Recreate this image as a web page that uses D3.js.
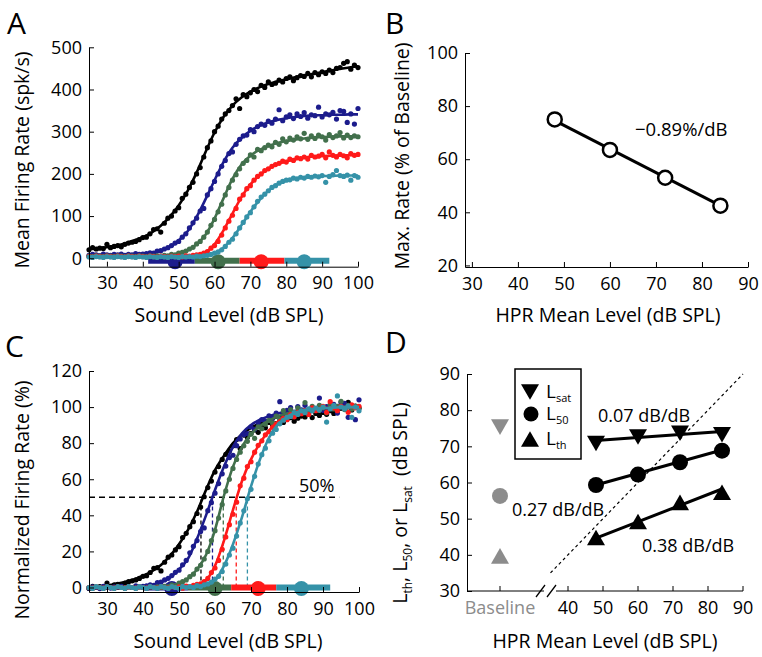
<!DOCTYPE html>
<html>
<head>
<meta charset="utf-8">
<script src="https://cdn.jsdelivr.net/npm/d3@7/dist/d3.min.js"></script>
<style>
  body { margin: 0; background: #fff; }
  svg { display: block; }
</style>
</head>
<body>
<svg id="fig" width="762" height="657"></svg>
<script>
// ---- Veriler ----
// test edilen ses seviyeleri (dB SPL), 1 dB adim
const levels = [25,26,27,28,29,30,31,32,33,34,35,36,37,38,39,40,41,42,43,44,45,46,47,48,49,50,
  51,52,53,54,55,56,57,58,59,60,61,62,63,64,65,66,67,68,69,70,71,72,73,74,75,76,77,78,79,80,
  81,82,83,84,85,86,87,88,89,90,91,92,93,94,95,96,97,98,99,100];
// fit egrilerinin okundugu seviyeler
const fitLevels = [25,27.5,30,32.5,35,37.5,40,42.5,45,47.5,50,52.5,55,57.5,60,62.5,65,67.5,70,
  72.5,75,77.5,80,82.5,85,87.5,90,92.5,95,97.5,100];

const seriesNames = ['Baseline', 'HPR 48', 'HPR 60', 'HPR 72', 'HPR 84'];
const seriesColors = ['#000000', '#1c1c8c', '#42704c', '#ff1a1a', '#3592a8'];

// Panel A: ortalama atim hizi (spk/s)
const blackDotsA = [20,25,22,24,23,33,25,28,30,27,33,36,38,40,44,49,50,58,68,70,62,83,95,100,112,120,142,152,168,180,
  200,215,240,262,278,300,313,330,342,350,362,378,355,388,383,392,400,395,410,405,418,412,415,422,418,426,430,421,428,433,
  431,438,430,440,435,442,438,446,440,450,452,462,466,448,458,452];
const blueDotsA = [7,9,8,6,10,8,7,9,8,10,7,9,8,11,9,10,11,13,12,17,18,22,25,30,36,40,50,58,72,84,
  95,112,118,150,165,182,200,218,232,248,252,270,282,290,292,305,300,312,318,315,325,320,330,352,326,335,340,331,342,336,
  345,332,340,338,358,335,342,340,346,330,350,348,322,342,318,355];
const greenDotsA = [5,4,6,5,4,6,5,4,6,5,4,6,5,4,6,5,4,6,5,6,5,7,6,9,8,12,14,17,22,26,
  34,40,50,62,78,92,110,128,150,168,185,198,212,225,232,245,240,258,255,262,268,264,275,270,283,276,285,280,288,283,
  296,282,290,284,292,288,280,293,286,290,298,285,292,286,290,288];
const redDotsA = [4,3,5,4,3,5,4,3,5,4,3,5,4,3,5,4,3,5,4,3,5,4,3,5,4,5,3,6,5,7,
  8,9,12,16,24,30,40,55,72,88,102,118,140,150,165,172,185,194,200,208,212,218,222,225,230,228,235,232,238,236,
  240,235,244,240,242,246,238,252,244,240,246,243,238,248,244,246];
const tealDotsA = [3,2,4,3,2,4,3,2,4,3,2,4,3,2,4,3,2,4,3,2,4,3,2,4,3,2,4,3,4,3,
  5,4,6,7,9,12,15,20,28,38,45,58,72,85,98,108,122,135,145,152,160,168,172,178,182,185,186,190,188,192,
  190,194,192,195,193,196,180,194,198,208,196,194,197,185,196,192];

const blackFitA = [22,24,26,30,35,42,50,61,77,98,125,160,203,252,298,335,362,381,395,405,413,419,424,429,433,437,441,445,449,452,455];
const blueFitA = [8,8,8,8,8,8.5,9.5,12,18,27,42,64,98,140,185,228,262,285,302,314,322,328,332,335,337,339,339,340,340,341,341];
const greenFitA = [5,5,5,5,5,5,5,5,6,7,11,19,33,56,94,142,188,222,243,257,266,273,278,281,284,286,287,288,289,289,289];
const redFitA = [4,4,4,4,4,4,4,4,4,4,4,5,8,14,33,66,106,145,175,196,212,223,230,235,239,241,242,243,244,244,245];
const tealFitA = [3,3,3,3,3,3,3,3,3,3,3,3,4,6,11,25,48,78,110,138,160,175,184,189,192,194,195,195,196,196,196];

// HPR dagilim cubuklari (dB SPL)
const hprStartA = [41.5, 54.5, 67, 79.5];
const hprEndA = [54.5, 67, 79.5, 92];
const hprMeanA = [49, 61, 73, 85];
const hprStartC = [40, 52.5, 64.5, 77];
const hprEndC = [52.5, 64.5, 77, 92];
const hprMeanC = [48, 60, 72, 84];

// Panel C: normalize atim hizi (%)
const blackDotsC = [-0.5,0.7,0,0.5,0.2,2.5,0.7,1.4,1.8,1.2,2.5,3.2,3.7,4.2,5,6.2,6.5,8.3,10.6,11,
  9.2,14,16.8,18,20.8,22.6,27.7,30,33.7,36.5,41,44.6,50.3,55.4,59,64,67,71,73.8,75.7,
  78.5,82,77,84.5,83.3,85.4,87.3,86,89.6,88.5,91.5,90,90.8,92.4,91.5,93.3,94.2,92.2,93.8,95,
  94.5,96,94.2,96.5,95.4,97,96,98,96.5,99,99.4,101.7,102.6,98.4,100.6,99.3];
const blueDotsC = [-0.3,0.3,0,-0.6,0.6,0,-0.3,0.3,0,0.6,-0.3,0.3,0,0.9,0.3,0.6,0.9,1.5,1.2,2.7,
  3,4.2,5.1,6.6,8.4,9.6,12.6,15,19.2,22.8,26,31,33,42.6,47,52.3,57.6,63,67.3,72,
  73.3,78.6,82.3,84.7,85.3,89,87.7,91.3,93,92.2,95.2,93.7,96.7,103,95.5,98.2,99.7,97,100.3,98.5,
  101,97.3,99.7,99,105,98.2,100.3,99.7,101.5,96.7,102.6,102,94.3,100.3,93,104];
const greenDotsC = [0,-0.4,0.4,0,-0.4,0.4,0,-0.4,0.4,0,-0.4,0.4,0,-0.4,0.4,0,-0.4,0.4,0,0.4,
  0,0.7,0.4,1.4,1,2.5,3.2,4.2,6,7.4,10.2,12.3,15.8,20,26,31.5,38.5,46,53.5,60,
  66,71,75,78.5,81,85,82.7,89,88,90.5,92.6,91.2,95,93.3,98,95.4,98.6,96.8,99.6,97.9,
  102.5,97.5,100.4,98.2,101,99.6,96.8,101.4,99,100.4,103.2,98.6,101,98.9,100.4,99.6];
const redDotsC = [0,-0.4,0.4,0,-0.4,0.4,0,-0.4,0.4,0,-0.4,0.4,0,-0.4,0.4,0,-0.4,0.4,0,-0.4,
  0.4,0,-0.4,0.4,0,0.4,-0.4,0.8,0.4,1.2,1.7,2,3.3,5,8.3,10.8,15,21.2,28,34.8,
  40.6,47.3,56.4,60.6,67,69.7,75,78.8,81.3,84.6,86.3,88.8,90.5,91.7,93.8,93,95.9,94.6,97.1,96.3,
  98,95.9,99.6,98,98.8,100.4,97.1,103,99.6,98,100.4,99.2,97.1,101.2,99.6,100.4];
const tealDotsC = [0,-0.5,0.5,0,-0.5,0.5,0,-0.5,0.5,0,-0.5,0.5,0,-0.5,0.5,0,-0.5,0.5,0,-0.5,
  0.5,0,-0.5,0.5,0,-0.5,0.5,0,0.5,0,1,0.5,1.5,2,3,4.7,6.2,8.8,13,18,
  21.8,28.5,35.8,42.5,49.2,54.4,61.6,68.4,73.6,77.2,81.3,85.5,87.6,90.7,92.7,94.3,94.8,96.9,95.9,97.9,
  96.9,99,97.9,99.5,98.4,100,91.7,99,101,106.2,100,99,100.5,94.3,100,97.9];

const blackFitC = [0,0.5,1,2,3,4.5,6.5,9,12.5,17.5,24,32,42,54,65,73,80,85,88.5,91,93,94.5,95.5,96.5,97,97.5,98,98.5,99,99.5,100];
const blueFitC = [0,0,0,0,0,0.2,0.5,1,3,5.5,10,16,27,40,54,67,78,85.5,90,93,95,96.5,97.5,98,98.5,99,99,99.5,99.5,100,100];
const greenFitC = [0,0,0,0,0,0,0,0,0.5,1,2,5,10,18,32,51,67,78,85,89.5,92.5,95,96.5,97.5,98.5,99,99.5,99.5,100,100,100];
const redFitC = [0,0,0,0,0,0,0,0,0,0,0,0.5,1.5,4,12,26,43,59,71,80,87,92,95,97,98.5,99,99.5,99.5,100,100,100];
const tealFitC = [0,0,0,0,0,0,0,0,0,0,0,0,0.5,1.5,4,12,24,39,56,71,83,90.5,94.5,97,98.5,99,99.5,99.5,100,100,100];

// %50 noktalari (dB SPL)
const l50C = [56.1, 59.3, 62.3, 65.9, 69.0];
const fiftyLine = [25, 94.5];

// Panel B: maksimum hiz (% baseline)
const hprLevels = [48, 60, 72, 84];
const maxRate = [75, 63.5, 53, 42.5];
const maxRateFit = [74.5, 42.5];

// Panel D: esik / L50 / doyum seviyeleri
const lsat = [70.8, 72.6, 73.6, 73.2];
const l50 = [59.3, 62.2, 65.6, 68.8];
const lth = [44.8, 49.2, 54.5, 57.3];
const lsatFit = [71.6, 74.1];
const l50Fit = [59.3, 69.0];
const lthFit = [44.6, 58.2];
const baseLsat = 75.3, baseL50 = 56.3, baseLth = 39.7;
const unityLine = [35, 90];

// tick etiketleri
const xTicksAC = [30, 40, 50, 60, 70, 80, 90, 100];
const yTicksA = [0, 100, 200, 300, 400, 500];
const yTicksC = [0, 20, 40, 60, 80, 100, 120];
const xTicksB = [30, 40, 50, 60, 70, 80, 90];
const yTicksB = [20, 40, 60, 80, 100];
const xTicksD = [40, 50, 60, 70, 80, 90];
const yTicksD = [30, 40, 50, 60, 70, 80, 90];

// ---- Cizim ----
const FONT = "'Open Sans', sans-serif";
const svg = d3.select('#fig').style('font-family', FONT);
const GRAY = '#8c8c8c';

function styleAxis(g) {
    g.selectAll('path, line').attr('stroke', '#000').attr('stroke-width', 1);
    g.selectAll('text')
        .style('font-size', '18px')
        .style('font-family', FONT)
        .attr('fill', '#000');
    return g;
}

function xAxis(x, ticks, yPos) {
    return styleAxis(svg.append('g')
        .attr('transform', `translate(0,${yPos})`)
        .call(d3.axisBottom(x).tickValues(ticks).tickSizeInner(-5).tickSizeOuter(0).tickPadding(10)));
}

function yAxis(y, ticks, xPos) {
    return styleAxis(svg.append('g')
        .attr('transform', `translate(${xPos},0)`)
        .call(d3.axisLeft(y).tickValues(ticks).tickSizeInner(-5).tickSizeOuter(0).tickPadding(7)));
}

function label(txt, x, y, size, rotate) {
    return svg.append('text')
        .attr('transform', `translate(${x},${y})` + (rotate ? ' rotate(-90)' : ''))
        .attr('text-anchor', 'middle')
        .style('font-size', size + 'px')
        .text(txt);
}

function letter(txt, x, y) {
    svg.append('text').attr('x', x).attr('y', y)
        .style('font-size', '30px')
        .text(txt);
}

// Egri + noktalar (A ve C icin ortak)
function responsePanel(x, y, fits, dots, hprStart, hprEnd, hprMean, hprY) {
    // HPR cubuklari
    hprStart.forEach((s, i) => {
        svg.append('line')
            .attr('x1', x(s)).attr('x2', x(hprEnd[i]))
            .attr('y1', y(hprY)).attr('y2', y(hprY))
            .attr('stroke', seriesColors[i + 1])
            .attr('stroke-width', 6);
    });
    hprMean.forEach((m, i) => {
        svg.append('circle')
            .attr('cx', x(m)).attr('cy', y(hprY) + 1)
            .attr('r', 7.5)
            .attr('fill', seriesColors[i + 1]);
    });

    const line = d3.line()
        .x((d, i) => x(fitLevels[i]))
        .y(d => y(d))
        .curve(d3.curveMonotoneX);

    fits.forEach((fit, k) => {
        svg.append('path')
            .datum(fit)
            .attr('d', line)
            .attr('fill', 'none')
            .attr('stroke', seriesColors[k])
            .attr('stroke-width', 2.6);
        svg.append('g').selectAll('circle')
            .data(dots[k])
            .enter()
            .append('circle')
            .attr('cx', (d, i) => x(levels[i]))
            .attr('cy', d => y(d))
            .attr('r', 2.6)
            .attr('fill', seriesColors[k]);
    });
}

// ===== Panel A =====
const xA = d3.scaleLinear().domain([25, 100]).range([89, 358]);
const yA = d3.scaleLinear().domain([-20, 500]).range([266.7, 47.3]);
responsePanel(xA, yA,
    [blackFitA, blueFitA, greenFitA, redFitA, tealFitA],
    [blackDotsA, blueDotsA, greenDotsA, redDotsA, tealDotsA],
    hprStartA, hprEndA, hprMeanA, -6);
xAxis(xA, xTicksAC, 266.7);
yAxis(yA, yTicksA, 89);
label('Sound Level (dB SPL)', 229, 322, 19.5);
label('Mean Firing Rate (spk/s)', 29, 160, 19.5, true);
letter('A', 7, 34);

// ===== Panel B =====
const xB = d3.scaleLinear().domain([28.5, 90]).range([465, 748]);
const yB = d3.scaleLinear().domain([19.4, 100]).range([267, 53]);
xAxis(xB, xTicksB, 267);
yAxis(yB, yTicksB, 465);
svg.append('line')
    .attr('x1', xB(hprLevels[0])).attr('y1', yB(maxRateFit[0]))
    .attr('x2', xB(hprLevels[3])).attr('y2', yB(maxRateFit[1]))
    .attr('stroke', '#000').attr('stroke-width', 3);
svg.append('g').selectAll('circle')
    .data(maxRate)
    .enter()
    .append('circle')
    .attr('cx', (d, i) => xB(hprLevels[i]))
    .attr('cy', d => yB(d))
    .attr('r', 7)
    .attr('fill', '#fff')
    .attr('stroke', '#000')
    .attr('stroke-width', 2.5);
svg.append('text').attr('x', 635).attr('y', 136)
    .style('font-size', '18.5px').text('\u22120.89%/dB');
label('HPR Mean Level (dB SPL)', 608, 322, 19.5);
label('Max. Rate (% of Baseline)', 409, 156, 19.5, true);
letter('B', 385, 34);

// ===== Panel C =====
const xC = d3.scaleLinear().domain([25, 100]).range([89, 359]);
const yC = d3.scaleLinear().domain([-2.5, 120]).range([592, 371]);

// %50 kesikli cizgileri
svg.append('line')
    .attr('x1', xC(fiftyLine[0])).attr('x2', xC(fiftyLine[1]))
    .attr('y1', yC(50)).attr('y2', yC(50))
    .attr('stroke', '#000').attr('stroke-width', 1.5)
    .attr('stroke-dasharray', '6,4');
l50C.forEach((v, i) => {
    svg.append('line')
        .attr('x1', xC(v)).attr('x2', xC(v))
        .attr('y1', yC(0)).attr('y2', yC(50))
        .attr('stroke', seriesColors[i]).attr('stroke-width', 1.3)
        .attr('stroke-dasharray', '4,3');
});
responsePanel(xC, yC,
    [blackFitC, blueFitC, greenFitC, redFitC, tealFitC],
    [blackDotsC, blueDotsC, greenDotsC, redDotsC, tealDotsC],
    hprStartC, hprEndC, hprMeanC, 0);
xAxis(xC, xTicksAC, 592);
yAxis(yC, yTicksC, 89);
svg.append('text').attr('x', 299).attr('y', 492)
    .style('font-size', '18px').text('50%');
label('Sound Level (dB SPL)', 228, 648, 19.5);
label('Normalized Firing Rate (%)', 29, 500, 19.5, true);
letter('C', 5, 357);

// ===== Panel D =====
const xD = d3.scaleLinear().domain([40, 90]).range([568, 743]);
const yD = d3.scaleLinear().domain([30, 90]).range([591, 374]);
const baseX = 500;
const axisYD = 591;

yAxis(yD, yTicksD, 467);
// kirik x ekseni
const axD = svg.append('g');
axD.append('line').attr('x1', 467).attr('x2', 544).attr('y1', axisYD).attr('y2', axisYD).attr('stroke', '#000');
axD.append('line').attr('x1', 556).attr('x2', xD(90)).attr('y1', axisYD).attr('y2', axisYD).attr('stroke', '#000');
[540, 551].forEach(bx => {
    axD.append('line')
        .attr('x1', bx - 4).attr('y1', axisYD + 6)
        .attr('x2', bx + 5).attr('y2', axisYD - 6)
        .attr('stroke', '#000').attr('stroke-width', 1.3);
});
axD.selectAll('.tk')
    .data(xTicksD)
    .enter()
    .append('line')
    .attr('x1', d => xD(d)).attr('x2', d => xD(d))
    .attr('y1', axisYD).attr('y2', axisYD - 5)
    .attr('stroke', '#000');
axD.append('line').attr('x1', baseX).attr('x2', baseX)
    .attr('y1', axisYD).attr('y2', axisYD - 5).attr('stroke', '#000');
axD.selectAll('.tl')
    .data(xTicksD)
    .enter()
    .append('text')
    .attr('x', d => xD(d)).attr('y', axisYD + 23)
    .attr('text-anchor', 'middle')
    .style('font-size', '18px')
    .text(d => d);
axD.append('text').attr('x', baseX).attr('y', axisYD + 23)
    .attr('text-anchor', 'middle')
    .style('font-size', '18px').attr('fill', GRAY)
    .text('Baseline');

// birim dogrusu (y = x)
svg.append('line')
    .attr('x1', xD(unityLine[0])).attr('y1', yD(unityLine[0]))
    .attr('x2', xD(unityLine[1])).attr('y2', yD(unityLine[1]))
    .attr('stroke', '#000').attr('stroke-width', 1.2)
    .attr('stroke-dasharray', '3,3');

// ucgen isaretci (bbox merkezli)
function tri(cx, cy, up, color) {
    const w = 18, h = 15.6;
    const p = up
        ? `M${cx},${cy - h / 2}L${cx + w / 2},${cy + h / 2}L${cx - w / 2},${cy + h / 2}Z`
        : `M${cx},${cy + h / 2}L${cx + w / 2},${cy - h / 2}L${cx - w / 2},${cy - h / 2}Z`;
    svg.append('path').attr('d', p).attr('fill', color);
}

const fitsD = [[lsatFit, lsat, 'down'], [l50Fit, l50, 'circle'], [lthFit, lth, 'up']];
fitsD.forEach(([fit, vals, kind]) => {
    svg.append('line')
        .attr('x1', xD(hprLevels[0])).attr('y1', yD(fit[0]))
        .attr('x2', xD(hprLevels[3])).attr('y2', yD(fit[1]))
        .attr('stroke', '#000').attr('stroke-width', 3);
    vals.forEach((v, i) => {
        if (kind === 'circle') {
            svg.append('circle').attr('cx', xD(hprLevels[i])).attr('cy', yD(v)).attr('r', 8).attr('fill', '#000');
        } else {
            tri(xD(hprLevels[i]), yD(v), kind === 'up', '#000');
        }
    });
});

// baseline (gri)
tri(baseX, yD(baseLsat), false, GRAY);
svg.append('circle').attr('cx', baseX).attr('cy', yD(baseL50)).attr('r', 8).attr('fill', GRAY);
tri(baseX, yD(baseLth), true, GRAY);

// egim yazilari
svg.append('text').attr('x', 598).attr('y', 422).style('font-size', '18px').text('0.07 dB/dB');
svg.append('text').attr('x', 512).attr('y', 516).style('font-size', '18px').text('0.27 dB/dB');
svg.append('text').attr('x', 642).attr('y', 552).style('font-size', '18px').text('0.38 dB/dB');

// lejant
svg.append('rect')
    .attr('x', 515).attr('y', 369).attr('width', 66).attr('height', 90)
    .attr('fill', '#fff').attr('stroke', '#000').attr('stroke-width', 1.5);
const legendItems = [['sat', 'down', 392], ['50', 'circle', 414], ['th', 'up', 439]];
legendItems.forEach(([sub, kind, ly]) => {
    if (kind === 'circle') {
        svg.append('circle').attr('cx', 531).attr('cy', ly).attr('r', 7.5).attr('fill', '#000');
    } else {
        tri(530, ly, kind === 'up', '#000');
    }
    const t = svg.append('text').attr('x', 546).attr('y', ly + 6).style('font-size', '19px');
    t.append('tspan').text('L');
    t.append('tspan').text(sub).style('font-size', '11px').attr('dy', 4);
});

// y etiketi (alt indisli)
const yl = svg.append('text')
    .attr('transform', 'translate(407,503) rotate(-90)')
    .attr('text-anchor', 'middle')
    .style('font-size', '19.5px');
yl.append('tspan').text('L');
yl.append('tspan').text('th').style('font-size', '12px').attr('dy', 5);
yl.append('tspan').text(', L').attr('dy', -5);
yl.append('tspan').text('50').style('font-size', '12px').attr('dy', 5);
yl.append('tspan').text(', or L').attr('dy', -5);
yl.append('tspan').text('sat').style('font-size', '12px').attr('dy', 5);
yl.append('tspan').text('  (dB SPL)').attr('dy', -5).attr('xml:space', 'preserve');

label('HPR Mean Level (dB SPL)', 605, 648, 19.5);
letter('D', 385, 353);
</script>
</body>
</html>
